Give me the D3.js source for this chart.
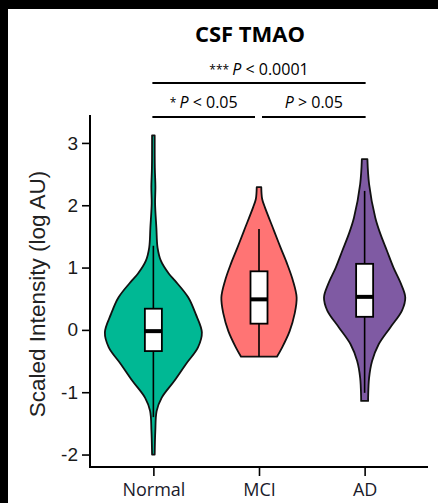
<!DOCTYPE html>
<html>
<head>
<meta charset="utf-8">
<script src="https://cdn.jsdelivr.net/npm/d3@7"></script>
<style>
  html, body { margin: 0; padding: 0; background: #000; }
  svg { display: block; }
</style>
</head>
<body>
<div id="chart"></div>
<script>
// groups along the x axis
var groups = ['Normal', 'MCI', 'AD'];
var fills = ['#00b894', '#ff7474', '#7f5aa3'];

// violin outlines: [value, relative density]
var normalDensity = [
  [-2.0, 0.027], [-1.62, 0.04], [-1.3, 0.068], [-1.09, 0.17], [-0.82, 0.43],
  [-0.55, 0.67], [-0.28, 0.92], [-0.04, 1.0], [0.26, 0.87], [0.52, 0.72],
  [0.79, 0.445], [0.9, 0.32], [1.11, 0.154], [1.32, 0.086], [1.64, 0.062],
  [2.03, 0.035], [2.29, 0.042], [2.6, 0.03], [3.12, 0.027]
];
var mciDensity = [
  [-0.43, 0.37], [-0.28, 0.478], [-0.02, 0.632], [0.26, 0.735], [0.52, 0.776],
  [0.79, 0.70], [1.06, 0.58], [1.32, 0.445], [1.59, 0.31], [1.97, 0.12],
  [2.1, 0.065], [2.29, 0.047]
];
var adDensity = [
  [-1.14, 0.072], [-1.09, 0.072], [-0.77, 0.092], [-0.5, 0.154], [-0.23, 0.29],
  [0.04, 0.53], [0.31, 0.77], [0.52, 0.838], [0.73, 0.754], [1.0, 0.595],
  [1.27, 0.46], [1.54, 0.325], [1.8, 0.22], [2.34, 0.092], [2.74, 0.057]
];
var densities = [normalDensity, mciDensity, adDensity];

// box stats: [lower whisker, q1, median, q3, upper whisker]
var boxStats = [
  [-1.4, -0.34, -0.02, 0.34, 1.35],
  [-0.43, 0.10, 0.49, 0.94, 1.62],
  [-1.01, 0.21, 0.53, 1.06, 2.23]
];

var yTicks = [-2, -1, 0, 1, 2, 3];

var svg = d3.select('#chart').append('svg')
  .attr('width', 438)
  .attr('height', 503);

svg.append('rect').attr('width', 438).attr('height', 503).attr('fill', '#000');
svg.append('rect').attr('x', 8).attr('y', 9).attr('width', 430).attr('height', 494).attr('fill', '#fff');

var x = d3.scalePoint().domain(groups).range([90, 428]).padding(0.6);
var y = d3.scaleLinear().domain([-2.2, 3.4]).range([467, 118]);
var w = d3.scaleLinear().domain([0, 1]).range([0, 48.5]);

// violins
groups.forEach(function(g, i) {
  var cx = x(g);
  var area = d3.area()
    .curve(d3.curveCatmullRom)
    .y(function(d) { return y(d[0]); })
    .x0(function(d) { return cx - w(d[1]); })
    .x1(function(d) { return cx + w(d[1]); });

  svg.append('path')
    .attr('d', area(densities[i]))
    .attr('fill', fills[i])
    .attr('stroke', '#111')
    .attr('stroke-width', 1.8)
    .attr('stroke-linejoin', 'round');

  var s = boxStats[i], bw = 17;
  svg.append('line')
    .attr('x1', cx).attr('x2', cx)
    .attr('y1', y(s[0])).attr('y2', y(s[4]))
    .attr('stroke', '#000').attr('stroke-width', 1.6);
  svg.append('rect')
    .attr('x', cx - bw / 2).attr('width', bw)
    .attr('y', y(s[3])).attr('height', y(s[1]) - y(s[3]))
    .attr('fill', '#fff').attr('stroke', '#000').attr('stroke-width', 1.8);
  svg.append('line')
    .attr('x1', cx - bw / 2).attr('x2', cx + bw / 2)
    .attr('y1', y(s[2])).attr('y2', y(s[2]))
    .attr('stroke', '#000').attr('stroke-width', 4);
});

// axes
var yAxis = svg.append('g')
  .attr('transform', 'translate(90,0)')
  .call(d3.axisLeft(y).tickValues(yTicks).tickSize(8).tickPadding(4)
    .tickFormat(function(d) { return String(d); }));
yAxis.select('.domain').remove();
yAxis.append('line').attr('x1', 0).attr('x2', 0).attr('y1', 115).attr('y2', 468)
  .attr('stroke', '#000').attr('stroke-width', 2);
yAxis.selectAll('.tick line').attr('stroke-width', 1.6);
yAxis.selectAll('.tick text')
  .attr('fill', '#1a1a1a')
  .style('font-family', '"Liberation Sans", Arial, sans-serif')
  .style('font-size', '19px');

var xAxis = svg.append('g')
  .attr('transform', 'translate(0,467)')
  .call(d3.axisBottom(x).tickSize(9).tickPadding(7));
xAxis.select('.domain').remove();
xAxis.append('line').attr('x1', 89).attr('x2', 428).attr('y1', 0).attr('y2', 0)
  .attr('stroke', '#000').attr('stroke-width', 2);
xAxis.selectAll('.tick line').attr('stroke-width', 1.6);
xAxis.selectAll('.tick text')
  .attr('fill', '#1a1a2a')
  .style('font-family', '"Open Sans", sans-serif')
  .style('font-size', '18px');

svg.append('text')
  .attr('transform', 'translate(45,294)rotate(-90)')
  .attr('text-anchor', 'middle')
  .attr('fill', '#222')
  .style('font-family', '"Liberation Sans", Arial, sans-serif')
  .style('font-size', '22.5px')
  .text('Scaled Intensity (log AU)');

// title
svg.append('text')
  .attr('x', 250).attr('y', 42)
  .attr('text-anchor', 'middle')
  .style('font-family', '"Open Sans", sans-serif')
  .style('font-weight', 'bold')
  .style('font-size', '22px')
  .text('CSF TMAO');

// significance brackets
var brackets = [
  {from: 'Normal', to: 'AD', y: 83, stars: '***', sign: '<', p: '0.0001', ty: 75},
  {from: 'Normal', to: 'MCI', y: 117, stars: '*', sign: '<', p: '0.05', ty: 108},
  {from: 'MCI', to: 'AD', y: 117, stars: '', sign: '>', p: '0.05', ty: 108}
];
brackets.forEach(function(b, i) {
  var x1 = x(b.from) - 1, x2 = x(b.to) + 1;
  if (i === 1) x2 = x(b.to) - 4;
  if (i === 2) x1 = x(b.from) + 3;
  svg.append('line')
    .attr('x1', x1).attr('x2', x2).attr('y1', b.y).attr('y2', b.y)
    .attr('stroke', '#000').attr('stroke-width', 2);
  var t = svg.append('text')
    .attr('x', (x1 + x2) / 2).attr('y', b.ty)
    .attr('text-anchor', 'middle')
    .style('font-family', '"Open Sans", sans-serif')
    .style('font-size', '16px');
  if (b.stars) t.append('tspan').style('font-size', '12px').attr('dy', -1).text(b.stars + ' ');
  t.append('tspan').attr('dy', b.stars ? 1 : 0).style('font-style', 'italic').text('P');
  t.append('tspan').text(' ' + b.sign + ' ' + b.p);
});
</script>
</body>
</html>
